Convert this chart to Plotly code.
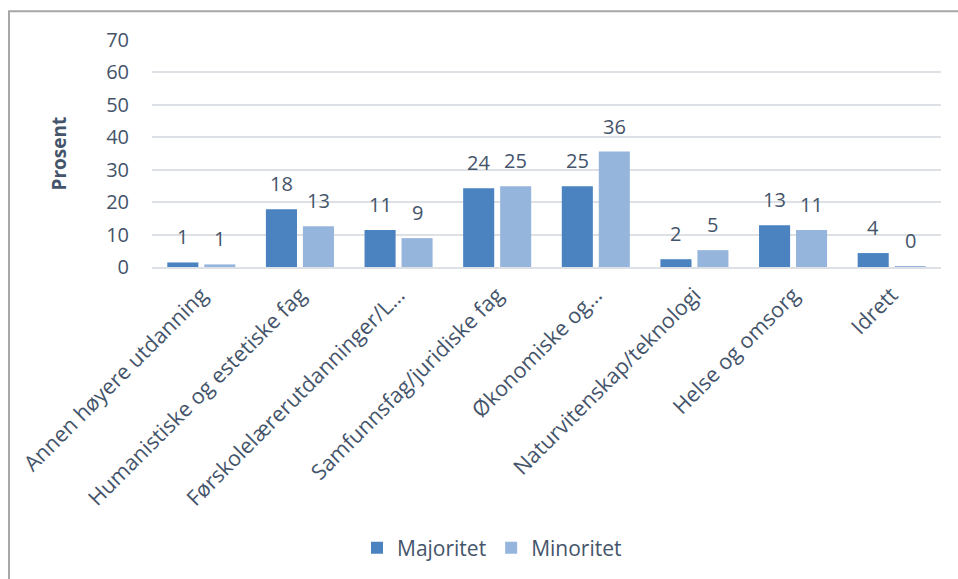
"""Grouped bar chart: field of study, majority vs minority (percent)."""
import plotly.graph_objects as go

CATEGORIES = [
    "Annen høyere utdanning",
    "Humanistiske og estetiske fag",
    "Førskolelærerutdanninger/L…",
    "Samfunnsfag/juridiske fag",
    "Økonomiske og…",
    "Naturvitenskap/teknologi",
    "Helse og omsorg",
    "Idrett",
]
MAJORITET = [1.4, 17.8, 11.4, 24.3, 24.9, 2.4, 12.9, 4.3]
MINORITET = [0.8, 12.6, 8.9, 24.9, 35.6, 5.2, 11.4, 0.2]
Y_TICKS = [0, 10, 20, 30, 40, 50, 60, 70]

TEXT = "#44546A"
GRID = "#DDE1E6"
FONT = "Open Sans"

W, H = 958, 579
L, R, T, B = 152, 17, 40, 311
PLOT_W = W - L - R
PLOT_H = H - T - B

fig = go.Figure()
fig.add_trace(go.Bar(name="Majoritet", x=CATEGORIES, y=MAJORITET,
                     marker=dict(color="#4A83BF", line_width=0)))
fig.add_trace(go.Bar(name="Minoritet", x=CATEGORIES, y=MINORITET,
                     marker=dict(color="#96B5DD", line_width=0)))

# value labels sit well above the bars, like the original
slot = PLOT_W / len(CATEGORIES) * 0.75 / 2
for series, shift in ((MAJORITET, -slot / 2), (MINORITET, slot / 2)):
    for cat, v in zip(CATEGORIES, series):
        fig.add_annotation(x=cat, y=v, xref="x", yref="y", text=f"{v:.0f}",
                           showarrow=False, yanchor="bottom", yshift=10,
                           xshift=shift, font=dict(size=20, color=TEXT))

fig.add_annotation(text="<b>Prosent</b>", textangle=-90, showarrow=False,
                   xref="paper", yref="paper", x=(58 - L) / PLOT_W, y=0.5,
                   xanchor="center", yanchor="middle",
                   font=dict(size=19, color=TEXT))

# chart frame (only left/top edges are visible in the original crop)
fig.add_shape(type="rect", xref="paper", yref="paper",
              x0=(9 - L) / PLOT_W, x1=1.2,
              y0=-2.0, y1=1 + (T - 11) / PLOT_H,
              line=dict(color="#A8A8A8", width=2), layer="below")

fig.update_layout(
    width=W, height=H,
    margin=dict(l=L, r=R, t=T, b=B),
    paper_bgcolor="white", plot_bgcolor="white",
    barmode="group", bargap=0.25, bargroupgap=0.16,
    font=dict(family=FONT, color=TEXT, size=20),
    showlegend=True,
    legend=dict(orientation="h", x=(492 - L) / PLOT_W, xanchor="center",
                y=(T + PLOT_H - 548) / PLOT_H, yanchor="middle",
                font=dict(size=21, color=TEXT), itemwidth=30),
)
fig.update_xaxes(tickangle=-45, tickfont=dict(size=21.5, color=TEXT),
                 showline=True, linecolor=GRID, linewidth=2, ticks="",
                 showgrid=False, ticklabelstandoff=5)
fig.update_yaxes(range=[0, 70], tickvals=Y_TICKS, showgrid=True,
                 gridcolor=GRID, gridwidth=2, zeroline=False,
                 tickfont=dict(size=20, color=TEXT), ticklabelstandoff=22,
                 showline=False)

fig.write_html("out.html", config={"displayModeBar": False},
               post_script="document.body.style.margin='0';"
                           "document.body.style.overflow='hidden';")
